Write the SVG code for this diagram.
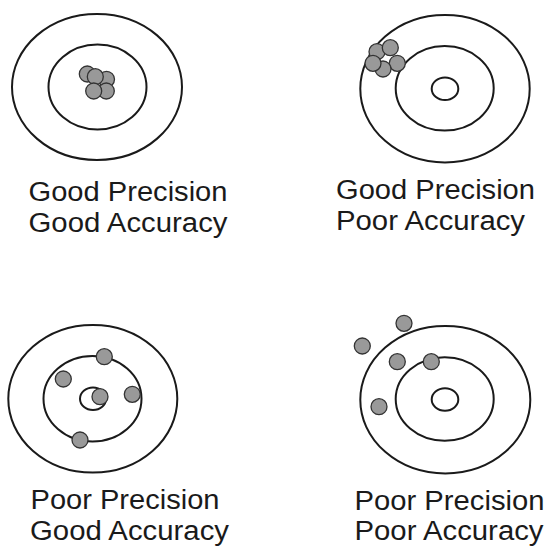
<svg xmlns="http://www.w3.org/2000/svg" width="546" height="546" viewBox="0 0 546 546">
<style>
.ring{fill:none;stroke:#1a1a1a;stroke-width:2}
.dot{fill:#999999;stroke:#333333;stroke-width:1.3}
.lbl{font-family:"Liberation Sans",Arial,sans-serif;font-size:27px;fill:#1a1a1a}
</style>
<rect width="546" height="546" fill="#ffffff"/>
<g id="target-good-precision-good-accuracy">
<ellipse class="ring" cx="97" cy="87" rx="85" ry="73"/>
<ellipse class="ring" cx="97.5" cy="87" rx="49" ry="42.5"/>
<circle class="dot" cx="87.3" cy="74" r="8"/>
<circle class="dot" cx="106.5" cy="79.3" r="8"/>
<circle class="dot" cx="95.3" cy="76.7" r="8"/>
<circle class="dot" cx="106.3" cy="91" r="8"/>
<circle class="dot" cx="93.7" cy="91" r="8"/>
<text class="lbl" x="28.5" y="201" textLength="199" lengthAdjust="spacingAndGlyphs">Good Precision</text>
<text class="lbl" x="28.5" y="232" textLength="199" lengthAdjust="spacingAndGlyphs">Good Accuracy</text>
</g>
<g id="target-good-precision-poor-accuracy">
<ellipse class="ring" cx="445" cy="88.7" rx="84.7" ry="73.7"/>
<ellipse class="ring" cx="444.7" cy="88.3" rx="49" ry="42.3"/>
<ellipse class="ring" cx="445" cy="88.7" rx="13.3" ry="11.3"/>
<circle class="dot" cx="377" cy="51.7" r="8"/>
<circle class="dot" cx="390.3" cy="47.7" r="8"/>
<circle class="dot" cx="397.3" cy="63.3" r="8"/>
<circle class="dot" cx="383" cy="69" r="8"/>
<circle class="dot" cx="373" cy="63.3" r="8"/>
<text class="lbl" x="336" y="198.5" textLength="199" lengthAdjust="spacingAndGlyphs">Good Precision</text>
<text class="lbl" x="336" y="230" textLength="189" lengthAdjust="spacingAndGlyphs">Poor Accuracy</text>
</g>
<g id="target-poor-precision-good-accuracy">
<ellipse class="ring" cx="92.8" cy="398.8" rx="84.5" ry="73.8"/>
<ellipse class="ring" cx="92.5" cy="398.8" rx="49" ry="42.8"/>
<ellipse class="ring" cx="93" cy="398.7" rx="13" ry="11.3"/>
<circle class="dot" cx="104.3" cy="356.7" r="8"/>
<circle class="dot" cx="63.3" cy="379" r="8"/>
<circle class="dot" cx="100" cy="396.7" r="8"/>
<circle class="dot" cx="132.3" cy="394.3" r="8"/>
<circle class="dot" cx="80" cy="440" r="8"/>
<text class="lbl" x="30.5" y="508.5" textLength="189" lengthAdjust="spacingAndGlyphs">Poor Precision</text>
<text class="lbl" x="30" y="539.5" textLength="199" lengthAdjust="spacingAndGlyphs">Good Accuracy</text>
</g>
<g id="target-poor-precision-poor-accuracy">
<ellipse class="ring" cx="445.3" cy="399.7" rx="85" ry="73.7"/>
<ellipse class="ring" cx="444.7" cy="399" rx="49" ry="41.7"/>
<ellipse class="ring" cx="445" cy="399.5" rx="13.3" ry="11.2"/>
<circle class="dot" cx="404" cy="323.3" r="8"/>
<circle class="dot" cx="362.3" cy="346" r="8"/>
<circle class="dot" cx="397.3" cy="361.7" r="8"/>
<circle class="dot" cx="431.3" cy="361.7" r="8"/>
<circle class="dot" cx="379" cy="406.7" r="8"/>
<text class="lbl" x="354.5" y="509.5" textLength="190" lengthAdjust="spacingAndGlyphs">Poor Precision</text>
<text class="lbl" x="354.5" y="539.5" textLength="189" lengthAdjust="spacingAndGlyphs">Poor Accuracy</text>
</g>
<g id="connectors"/>
</svg>
